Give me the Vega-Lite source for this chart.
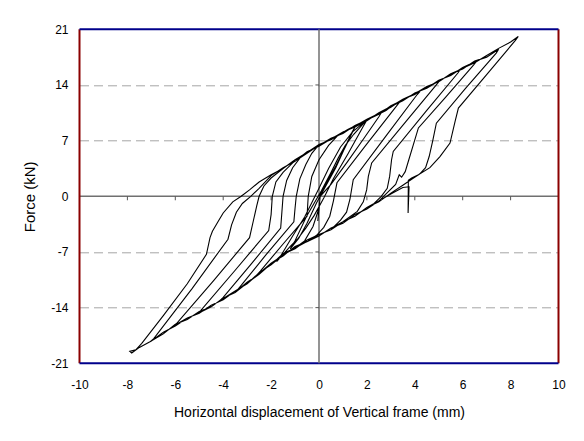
{
"$schema": "https://vega.github.io/schema/vega-lite/v6.json",
"width": 479, "height": 334,
"autosize": "none",
"padding": {"left": 79.5, "top": 29.3, "right": 25.5, "bottom": 77.7},
"background": "white",
"config": {"view": {"stroke": null}, "font": "Liberation Sans"},
"datasets": {
"one": [{"k": 1}],
"xb": [{"b": -10}, {"b": 10}],
"yb": [{"b": -21}, {"b": 21}],
"xt": [{"t": -8}, {"t": -6}, {"t": -4}, {"t": -2}, {"t": 2}, {"t": 4}, {"t": 6}, {"t": 8}],
"yt": [{"t": -14}, {"t": -7}, {"t": 7}, {"t": 14}],
"loop": [
{"x":0,"y":0},{"x":0.35,"y":1.9},{"x":0.7,"y":3.8},{"x":1.1,"y":6.2},{"x":1.5,"y":8.7},
{"x":1.35,"y":7.9},{"x":0.7,"y":3.6},{"x":-0.1,"y":-0.8},{"x":-0.5,"y":-3.4},{"x":-0.85,"y":-5.3},{"x":-1.2,"y":-6.6},
{"x":-1.0,"y":-5.6},{"x":-0.5,"y":-2.4},{"x":0.1,"y":0.7},{"x":0.5,"y":3.0},{"x":0.8,"y":4.8},{"x":1.1,"y":6.4},{"x":1.45,"y":7.8},{"x":1.75,"y":8.8},{"x":2.0,"y":9.6},
{"x":1.85,"y":8.8},{"x":1.2,"y":5.3},{"x":0.6,"y":2.2},{"x":0.2,"y":-0.2},{"x":-0.2,"y":-2.4},{"x":-0.55,"y":-4.0},{"x":-0.9,"y":-5.4},{"x":-1.2,"y":-6.3},{"x":-1.5,"y":-7.3},{"x":-1.77,"y":-8.2},
{"x":-1.6,"y":-7.5},{"x":-1.1,"y":-5.0},{"x":-0.6,"y":-2.6},{"x":-0.25,"y":-0.5},{"x":0.0,"y":1.0},{"x":0.4,"y":3.5},{"x":0.9,"y":6.2},{"x":1.4,"y":8.1},{"x":1.8,"y":9.1},{"x":2.0,"y":9.7},{"x":2.3,"y":10.1},{"x":2.62,"y":10.6},
{"x":2.5,"y":10.0},{"x":1.9,"y":7.4},{"x":1.2,"y":4.4},{"x":0.5,"y":1.5},{"x":0.05,"y":0.0},{"x":-0.05,"y":-3.1},{"x":0.0,"y":-1.5},{"x":-0.25,"y":-3.8},{"x":-0.6,"y":-5.6},{"x":-1.0,"y":-6.5},{"x":-1.5,"y":-7.4},{"x":-2.0,"y":-8.6},{"x":-2.3,"y":-9.2},{"x":-2.6,"y":-9.9},
{"x":-2.45,"y":-9.4},{"x":-1.5,"y":-6.0},{"x":-0.5,"y":-2.5},{"x":-0.45,"y":0.0},{"x":-0.3,"y":2.5},{"x":0.0,"y":4.6},{"x":0.4,"y":6.4},{"x":0.8,"y":7.7},{"x":1.2,"y":8.4},{"x":1.6,"y":9.0},{"x":2.0,"y":9.7},{"x":2.4,"y":10.2},{"x":2.8,"y":10.8},{"x":3.1,"y":11.5},{"x":3.38,"y":11.9},
{"x":3.25,"y":11.4},{"x":2.0,"y":6.6},{"x":0.75,"y":1.7},{"x":0.6,"y":-0.6},{"x":0.45,"y":-2.5},{"x":0.2,"y":-3.9},{"x":-0.1,"y":-4.9},{"x":-0.5,"y":-5.7},{"x":-1.0,"y":-6.4},{"x":-1.5,"y":-7.4},{"x":-2.0,"y":-8.4},{"x":-2.5,"y":-9.8},{"x":-3.0,"y":-10.8},{"x":-3.44,"y":-11.9},
{"x":-3.3,"y":-11.4},{"x":-2.2,"y":-7.3},{"x":-1.05,"y":-3.2},{"x":-1.0,"y":-1.5},{"x":-0.95,"y":0.0},{"x":-0.8,"y":2.2},{"x":-0.55,"y":4.0},{"x":-0.3,"y":5.4},{"x":0.0,"y":6.5},{"x":0.5,"y":7.1},{"x":1.0,"y":8.1},{"x":1.5,"y":8.7},{"x":2.0,"y":9.5},{"x":2.5,"y":10.5},{"x":3.0,"y":11.2},{"x":3.5,"y":12.2},{"x":3.9,"y":12.7},{"x":4.22,"y":13.2},
{"x":4.1,"y":12.8},{"x":2.8,"y":7.6},{"x":1.43,"y":2.1},{"x":1.29,"y":-0.4},{"x":1.15,"y":-2.0},{"x":0.9,"y":-3.0},{"x":0.5,"y":-4.2},{"x":0.0,"y":-4.8},{"x":-0.5,"y":-5.5},{"x":-1.0,"y":-6.5},{"x":-1.5,"y":-7.2},{"x":-2.0,"y":-8.6},{"x":-2.5,"y":-9.6},{"x":-3.0,"y":-11.0},{"x":-3.5,"y":-11.9},{"x":-4.13,"y":-13.1},
{"x":-4.0,"y":-12.7},{"x":-2.8,"y":-8.4},{"x":-1.6,"y":-4.0},{"x":-1.55,"y":-2.0},{"x":-1.5,"y":0.0},{"x":-1.35,"y":2.0},{"x":-1.1,"y":3.6},{"x":-0.8,"y":4.8},{"x":-0.5,"y":5.6},{"x":0.0,"y":6.3},{"x":0.5,"y":7.3},{"x":1.0,"y":7.9},{"x":1.5,"y":8.9},{"x":2.0,"y":9.6},{"x":2.5,"y":10.3},{"x":3.0,"y":11.4},{"x":3.5,"y":12.0},{"x":4.0,"y":13.0},{"x":4.5,"y":13.6},{"x":5.05,"y":14.6},
{"x":4.95,"y":14.2},{"x":3.6,"y":9.3},{"x":2.2,"y":4.2},{"x":2.06,"y":2.5},{"x":1.99,"y":0.8},{"x":1.85,"y":-0.7},{"x":1.6,"y":-1.9},{"x":1.0,"y":-3.2},{"x":0.5,"y":-4.0},{"x":0.0,"y":-5.0},{"x":-0.5,"y":-5.7},{"x":-1.0,"y":-6.3},{"x":-1.5,"y":-7.5},{"x":-2.0,"y":-8.4},{"x":-2.5,"y":-9.8},{"x":-3.0,"y":-10.8},{"x":-3.5,"y":-12.1},{"x":-4.0,"y":-12.8},{"x":-4.5,"y":-13.9},{"x":-5.1,"y":-14.8},
{"x":-4.95,"y":-14.4},{"x":-3.5,"y":-9.3},{"x":-2.1,"y":-4.3},{"x":-2.0,"y":-2.3},{"x":-1.95,"y":0.0},{"x":-1.8,"y":1.8},{"x":-1.5,"y":3.0},{"x":-1.1,"y":4.2},{"x":-0.5,"y":5.4},{"x":0.0,"y":6.5},{"x":0.5,"y":7.1},{"x":1.0,"y":8.1},{"x":1.5,"y":8.7},{"x":2.0,"y":9.7},{"x":2.5,"y":10.4},{"x":3.0,"y":11.2},{"x":3.5,"y":12.2},{"x":4.0,"y":12.8},{"x":4.5,"y":13.8},{"x":5.0,"y":14.4},{"x":5.5,"y":15.4},{"x":5.89,"y":15.9},
{"x":5.8,"y":15.5},{"x":4.5,"y":10.8},{"x":3.1,"y":5.65},{"x":3.03,"y":4.6},{"x":2.95,"y":2.5},{"x":2.85,"y":1.0},{"x":2.6,"y":0.0},{"x":2.3,"y":-0.9},{"x":2.0,"y":-1.4},{"x":1.5,"y":-2.5},{"x":1.0,"y":-3.2},{"x":0.5,"y":-4.2},{"x":0.0,"y":-4.8},{"x":-0.5,"y":-5.7},{"x":-1.0,"y":-6.5},{"x":-1.5,"y":-7.3},{"x":-2.0,"y":-8.6},{"x":-2.5,"y":-9.6},{"x":-3.0,"y":-11.0},{"x":-3.5,"y":-11.9},{"x":-4.0,"y":-13.0},{"x":-4.5,"y":-13.7},{"x":-5.0,"y":-14.7},{"x":-5.5,"y":-15.3},{"x":-6.08,"y":-16.3},
{"x":-5.95,"y":-16.0},{"x":-4.4,"y":-10.6},{"x":-2.9,"y":-5.2},{"x":-2.75,"y":-3.2},{"x":-2.6,"y":-1.2},{"x":-2.5,"y":0.0},{"x":-2.3,"y":1.3},{"x":-2.0,"y":2.3},{"x":-1.5,"y":3.5},{"x":-1.0,"y":4.6},{"x":-0.5,"y":5.4},{"x":0.0,"y":6.4},{"x":0.5,"y":7.3},{"x":1.0,"y":7.9},{"x":1.5,"y":8.9},{"x":2.0,"y":9.5},{"x":2.5,"y":10.5},{"x":3.0,"y":11.3},{"x":3.5,"y":12.0},{"x":4.0,"y":13.0},{"x":4.5,"y":13.6},{"x":5.0,"y":14.6},{"x":5.5,"y":15.2},{"x":6.0,"y":16.2},{"x":6.58,"y":17.0},
{"x":6.45,"y":16.5},{"x":5.3,"y":12.5},{"x":4.15,"y":8.6},{"x":4.0,"y":7.1},{"x":3.75,"y":4.6},{"x":3.6,"y":3.1},{"x":3.45,"y":2.4},{"x":3.35,"y":2.7},{"x":3.2,"y":1.5},{"x":2.8,"y":0.3},{"x":2.5,"y":-0.6},{"x":2.0,"y":-1.6},{"x":1.5,"y":-2.3},{"x":1.0,"y":-3.4},{"x":0.5,"y":-4.0},{"x":0.0,"y":-5.0},{"x":-0.5,"y":-5.5},{"x":-1.0,"y":-6.6},{"x":-1.5,"y":-7.3},{"x":-2.0,"y":-8.5},{"x":-2.5,"y":-9.8},{"x":-3.0,"y":-10.9},{"x":-3.5,"y":-12.1},{"x":-4.0,"y":-12.8},{"x":-4.5,"y":-13.9},{"x":-5.0,"y":-14.5},{"x":-5.5,"y":-15.5},{"x":-6.0,"y":-16.1},{"x":-6.5,"y":-17.3},{"x":-7.06,"y":-18.3},
{"x":-6.9,"y":-17.9},{"x":-5.3,"y":-11.6},{"x":-3.8,"y":-5.4},{"x":-3.65,"y":-3.6},{"x":-3.45,"y":-2.0},{"x":-3.2,"y":-0.9},{"x":-2.85,"y":0.0},{"x":-2.5,"y":1.0},{"x":-2.0,"y":2.6},{"x":-1.5,"y":3.6},{"x":-1.0,"y":4.4},{"x":-0.5,"y":5.6},{"x":0.0,"y":6.3},{"x":0.5,"y":7.2},{"x":1.0,"y":8.1},{"x":1.5,"y":8.8},{"x":2.0,"y":9.6},{"x":2.5,"y":10.3},{"x":3.0,"y":11.4},{"x":3.5,"y":12.1},{"x":4.0,"y":12.9},{"x":4.5,"y":13.8},{"x":5.0,"y":14.4},{"x":5.5,"y":15.4},{"x":6.0,"y":16.0},{"x":6.5,"y":17.0},{"x":7.0,"y":17.5},{"x":7.5,"y":18.5},
{"x":7.4,"y":18.0},{"x":6.1,"y":13.5},{"x":4.9,"y":9.2},{"x":4.75,"y":7.0},{"x":4.6,"y":5.0},{"x":4.45,"y":3.6},{"x":4.2,"y":2.8},{"x":3.9,"y":2.2},{"x":3.5,"y":1.4},{"x":3.0,"y":0.4},{"x":2.5,"y":-0.7},{"x":2.0,"y":-1.4},{"x":1.5,"y":-2.5},{"x":1.0,"y":-3.2},{"x":0.5,"y":-4.2},{"x":0.0,"y":-4.8},{"x":-0.5,"y":-5.7},{"x":-1.0,"y":-6.4},{"x":-1.5,"y":-7.4},{"x":-2.0,"y":-8.4},{"x":-2.5,"y":-9.7},{"x":-3.0,"y":-11.0},{"x":-3.5,"y":-11.9},{"x":-4.0,"y":-13.0},{"x":-4.5,"y":-13.7},{"x":-5.0,"y":-14.7},{"x":-5.5,"y":-15.3},{"x":-6.0,"y":-16.3},{"x":-6.5,"y":-17.1},{"x":-7.0,"y":-18.2},{"x":-7.5,"y":-19.0},{"x":-7.82,"y":-19.7},
{"x":-7.9,"y":-19.5},{"x":-7.65,"y":-19.3},{"x":-7.4,"y":-18.5},{"x":-6.5,"y":-15.0},{"x":-5.5,"y":-11.0},{"x":-4.7,"y":-7.3},{"x":-4.55,"y":-5.2},{"x":-4.45,"y":-4.4},{"x":-4.2,"y":-3.1},{"x":-4.0,"y":-2.1},{"x":-3.6,"y":-0.7},{"x":-3.25,"y":0.0},{"x":-2.9,"y":0.8},{"x":-2.5,"y":1.8},{"x":-2.0,"y":2.7},{"x":-1.5,"y":3.5},{"x":-1.0,"y":4.6},{"x":-0.5,"y":5.5},{"x":0.0,"y":6.5},{"x":0.5,"y":7.1},{"x":1.0,"y":8.0},{"x":1.5,"y":8.8},{"x":2.0,"y":9.7},{"x":2.5,"y":10.4},{"x":3.0,"y":11.3},{"x":3.5,"y":12.2},{"x":4.0,"y":12.9},{"x":4.5,"y":13.7},{"x":5.0,"y":14.5},{"x":5.5,"y":15.3},{"x":6.0,"y":16.1},{"x":6.5,"y":16.8},{"x":7.0,"y":17.7},{"x":7.5,"y":18.6},{"x":8.0,"y":19.4},{"x":8.32,"y":20.1},
{"x":8.2,"y":19.6},{"x":7.0,"y":15.3},{"x":5.82,"y":11.1},{"x":5.68,"y":9.4},{"x":5.47,"y":6.7},{"x":5.05,"y":5.0},{"x":4.63,"y":3.6},{"x":4.15,"y":2.7},{"x":3.87,"y":2.3},{"x":3.73,"y":2.0},{"x":3.72,"y":-2.1},{"x":3.76,"y":1.2},{"x":3.5,"y":1.1},{"x":3.0,"y":0.3},{"x":2.6,"y":-0.4}
]
},
"layer": [
{"data": {"name": "one"}, "mark": {"type": "rule", "color": "#707070", "strokeWidth": 1.5},
 "encoding": {"y": {"datum": 0, "type": "quantitative", "scale": {"domain": [-21, 21], "nice": false, "zero": false},
 "axis": {"values": [-21,-14,-7,0,7,14,21], "labelFlush": false, "labelExpr": "datum.value < 0 ? '-' + abs(datum.value) : '' + datum.value", "title": "Force (kN)", "titleFontSize": 15, "titleFontWeight": "normal", "titleColor": "#000", "titlePadding": 12, "labelFontSize": 12, "labelColor": "#000", "labelPadding": 11.5, "ticks": false, "tickSize": 0, "domain": false, "minExtent": 30, "maxExtent": 30,
 "grid": true, "gridColor": "#a6a6a6", "gridDash": [9, 5], "gridWidth": 1,
 "gridOpacity": {"condition": {"test": "abs(datum.value) == 7 || abs(datum.value) == 14", "value": 1}, "value": 0}}}}},
{"data": {"name": "xb"}, "mark": {"type": "rule", "color": "#8b0000", "strokeWidth": 2},
 "encoding": {"x": {"field": "b", "type": "quantitative", "scale": {"domain": [-10, 10], "nice": false, "zero": false},
 "axis": {"values": [-10,-8,-6,-4,-2,0,2,4,6,8,10], "labelFlush": false, "labelExpr": "datum.value < 0 ? '-' + abs(datum.value) : '' + datum.value", "title": "Horizontal displacement of Vertical frame (mm)", "titleFontSize": 14, "titleFontWeight": "normal", "titleColor": "#000", "titlePadding": 15, "labelFontSize": 12, "labelColor": "#000", "labelPadding": 16, "ticks": false, "tickSize": 0, "domain": false, "grid": false}}}},
{"data": {"name": "yb"}, "mark": {"type": "rule", "color": "#00008b", "strokeWidth": 2}, "encoding": {"y": {"field": "b", "type": "quantitative"}}},
{"data": {"name": "one"}, "mark": {"type": "rule", "color": "#707070", "strokeWidth": 1.5}, "encoding": {"x": {"datum": 0, "type": "quantitative"}}},
{"data": {"name": "xt"}, "mark": {"type": "rule", "color": "#555", "strokeWidth": 1}, "encoding": {"x": {"field": "t", "type": "quantitative"}, "y": {"datum": 0, "type": "quantitative"}, "y2": {"datum": -0.5}}},
{"data": {"name": "yt"}, "mark": {"type": "rule", "color": "#555", "strokeWidth": 1}, "encoding": {"y": {"field": "t", "type": "quantitative"}, "x": {"datum": 0, "type": "quantitative"}, "x2": {"datum": -0.15}}},
{"data": {"name": "loop"}, "mark": {"type": "line", "color": "#000", "strokeWidth": 1.1}, "encoding": {"x": {"field": "x", "type": "quantitative"}, "y": {"field": "y", "type": "quantitative"}, "order": {"value": null}}}
]
}
